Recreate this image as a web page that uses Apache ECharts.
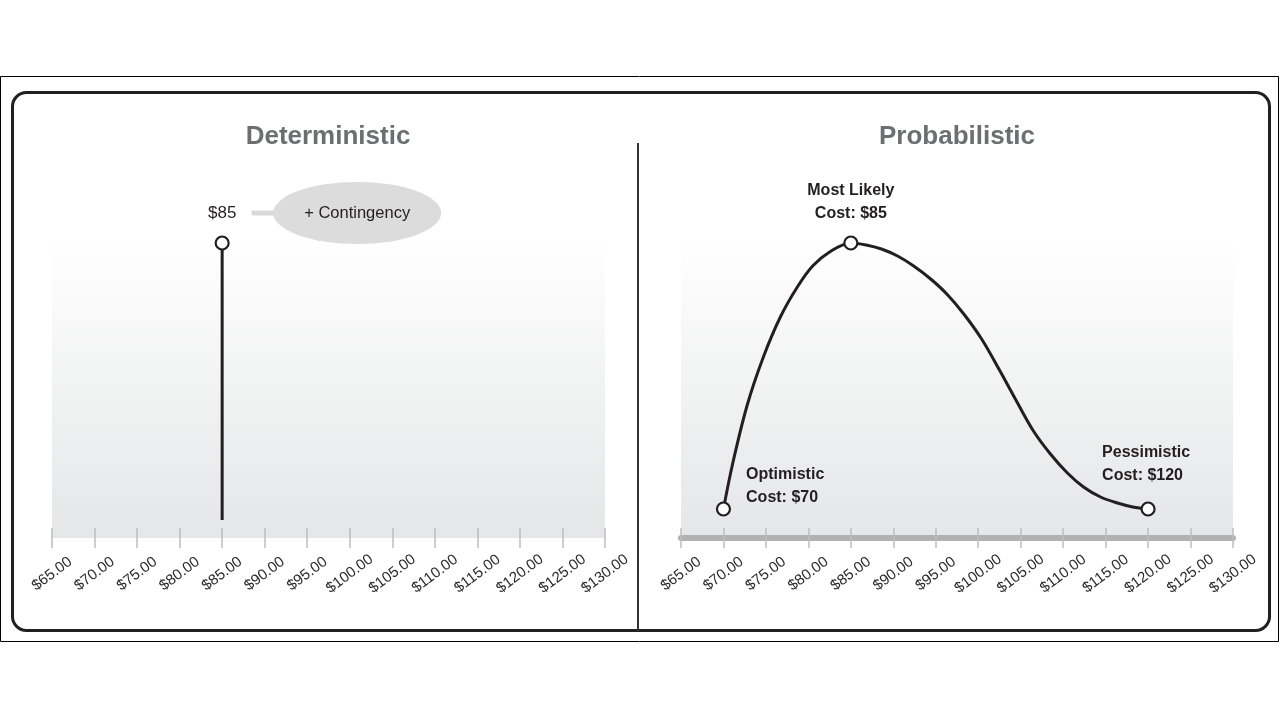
<!DOCTYPE html>
<html>
<head>
<meta charset="utf-8">
<title>Deterministic vs Probabilistic</title>
<script src="https://cdn.jsdelivr.net/npm/echarts@6/dist/echarts.min.js"></script>
<style>
  html, body { margin: 0; padding: 0; background: #fff; }
  #chart { width: 1280px; height: 720px; }
</style>
</head>
<body>
<div id="chart"></div>
<script>
// cost axis (shared by both panels)
const costMin = 65;
const costMax = 130;
const costStep = 5;

// deterministic panel: single point estimate drawn as a stem
const detCost = [85, 85];
const detHeight = [18, 295];
const detLabel = '$85';
const detNote = '+ Contingency';

// probabilistic panel: curve
const probCost = [70, 71.1, 72.8, 74.7, 76.7, 78.7, 80.5, 82.5, 85, 86.8, 88.6, 90.5, 92.4, 94.4, 96.3,
  98.3, 100.4, 102.5, 104.5, 106.5, 108.5, 110.5, 112.4, 114.4, 116.4, 118.2, 120];
const probHeight = [29, 75, 133, 181, 221, 251, 272, 286, 295, 293, 289, 282, 272, 259, 244,
  224, 199, 168, 137, 107, 84, 65, 51, 41, 35, 31, 29];

// the three estimates
const keyNames = ['Optimistic', 'Most Likely', 'Pessimistic'];
const keyCost = [70, 85, 120];
const keyHeight = [29, 295, 29];

const ink = '#231f20';
const narrow = '"Liberation Sans Narrow", "Arial Narrow", "Liberation Sans", sans-serif';
const fmtCost = v => '$' + v.toFixed(2);

const bgGradient = new echarts.graphic.LinearGradient(0, 0, 0, 1, [
  { offset: 0, color: '#ffffff' },
  { offset: 1, color: '#e5e6e7' }
]);

const grids = [
  { left: 52, right: 1280 - 605, top: 238, bottom: 720 - 538 },
  { left: 681, right: 1280 - 1233, top: 238, bottom: 720 - 538 }
];

function costAxis(gridIndex, main, withLine) {
  return {
    type: 'value',
    gridIndex,
    position: 'bottom',
    min: costMin,
    max: costMax,
    interval: costStep,
    axisLine: withLine
      ? { show: true, lineStyle: { color: '#b1b1b1', width: 6, cap: 'round' } }
      : { show: false },
    axisTick: { show: true, inside: !main, length: 10, lineStyle: { color: '#bdbdbd', width: 1.5 } },
    axisLabel: main ? {
      show: true,
      rotate: 37,
      align: 'center',
      verticalAlign: 'middle',
      margin: 36,
      fontFamily: 'Liberation Sans, Arial, sans-serif',
      fontSize: 15,
      color: '#2a2a2a',
      formatter: fmtCost
    } : { show: false },
    splitLine: { show: false }
  };
}

const chart = echarts.init(document.getElementById('chart'));

const titleStyle = { fontFamily: narrow, fontSize: 26, fontWeight: 'bold', color: '#6d6e70' };

chart.setOption({
  animation: false,
  backgroundColor: '#fff',
  title: [
    { text: 'Deterministic', left: 323, top: 119, textAlign: 'center', textStyle: titleStyle },
    { text: 'Probabilistic', left: 952, top: 119, textAlign: 'center', textStyle: titleStyle }
  ],
  grid: grids.map(g => Object.assign({ show: true, borderWidth: 0, backgroundColor: bgGradient }, g)),
  xAxis: [
    costAxis(0, true, false),
    costAxis(0, false, false),
    costAxis(1, true, true),
    costAxis(1, false, false)
  ],
  yAxis: [
    { type: 'value', gridIndex: 0, min: 0, max: 300, show: false },
    { type: 'value', gridIndex: 1, min: 0, max: 300, show: false }
  ],
  graphic: [
    { type: 'rect', silent: true, shape: { x: 0.5, y: 76.5, width: 1278, height: 565 },
      style: { fill: 'none', stroke: '#000', lineWidth: 1 } },
    { type: 'rect', silent: true, shape: { x: 12.5, y: 92.5, width: 1257, height: 538, r: 14 },
      style: { fill: 'none', stroke: ink, lineWidth: 3 } },
    { type: 'line', silent: true, shape: { x1: 638, y1: 143, x2: 638, y2: 631 },
      style: { stroke: '#333', lineWidth: 2 } }
  ],
  series: [
    {
      type: 'line',
      xAxisIndex: 0,
      yAxisIndex: 0,
      data: detCost.map((c, i) => [c, detHeight[i]]),
      lineStyle: { color: ink, width: 3 },
      showSymbol: false,
      z: 3,
      markPoint: {
        silent: true,
        data: [
          {
            coord: [detCost[1], detHeight[1]],
            symbol: 'rect',
            symbolSize: [25, 5],
            symbolOffset: [42, -30],
            itemStyle: { color: '#d9d9d9' },
            label: { show: false }
          },
          {
            coord: [detCost[1], detHeight[1]],
            symbol: 'path://M0,50 A50,50 0 1,1 100,50 A50,50 0 1,1 0,50 Z',
            symbolSize: [168, 62],
            symbolOffset: [135, -30],
            itemStyle: { color: '#dcdcdd' },
            label: {
              show: true,
              formatter: detNote,
              position: 'inside',
              fontFamily: narrow,
              fontSize: 16.5,
              color: ink
            }
          }
        ]
      }
    },
    {
      type: 'scatter',
      xAxisIndex: 0,
      yAxisIndex: 0,
      data: [[detCost[1], detHeight[1]]],
      symbol: 'circle',
      symbolSize: 13,
      itemStyle: { color: '#fff', borderColor: ink, borderWidth: 2.2, opacity: 1 },
      z: 5,
      label: {
        show: true,
        position: 'top',
        distance: 14,
        formatter: detLabel,
        fontFamily: narrow,
        fontSize: 17,
        color: ink
      }
    },
    {
      type: 'line',
      xAxisIndex: 2,
      yAxisIndex: 1,
      data: probCost.map((c, i) => [c, probHeight[i]]),
      smooth: 0.35,
      showSymbol: false,
      lineStyle: { color: ink, width: 3 },
      z: 3
    },
    {
      type: 'scatter',
      xAxisIndex: 2,
      yAxisIndex: 1,
      symbol: 'circle',
      symbolSize: 13,
      itemStyle: { color: '#fff', borderColor: ink, borderWidth: 2.2, opacity: 1 },
      z: 5,
      label: {
        show: true,
        fontFamily: narrow,
        fontSize: 16,
        fontWeight: 'bold',
        lineHeight: 23,
        color: ink
      },
      data: [
        {
          value: [keyCost[0], keyHeight[0]],
          label: { position: 'right', distance: 15, offset: [0, -23], align: 'left',
            formatter: keyNames[0] + '\nCost: $' + keyCost[0] }
        },
        {
          value: [keyCost[1], keyHeight[1]],
          label: { position: 'top', distance: 10, align: 'center',
            formatter: keyNames[1] + '\nCost: $' + keyCost[1] }
        },
        {
          value: [keyCost[2], keyHeight[2]],
          label: { position: 'top', distance: 14, align: 'left', offset: [-46, 0],
            formatter: keyNames[2] + '\nCost: $' + keyCost[2] }
        }
      ]
    }
  ]
});
</script>
</body>
</html>
